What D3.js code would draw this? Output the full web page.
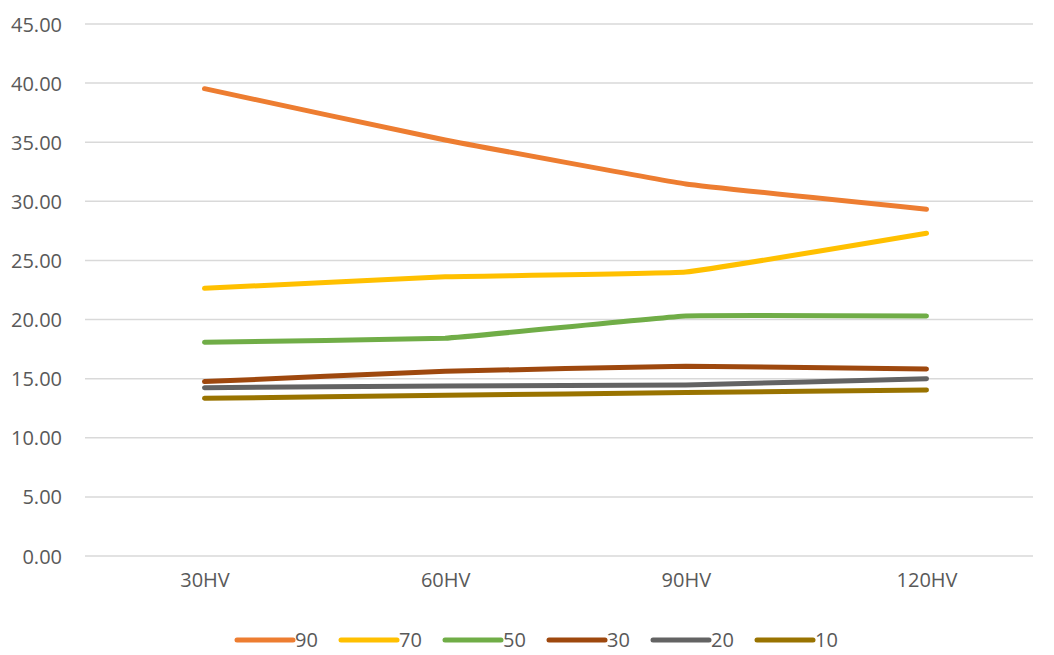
<!DOCTYPE html>
<html>
<head>
<meta charset="utf-8">
<script src="https://cdn.jsdelivr.net/npm/d3@7"></script>
<style>
  html, body { margin: 0; padding: 0; background: #fff; }
  svg { display: block; }
  text { font-family: "Open Sans", "Noto Sans", sans-serif; fill: #595959; }
</style>
</head>
<body>
<svg id="chart" width="1054" height="655"></svg>
<script>
const categories = ["30HV", "60HV", "90HV", "120HV"];
const seriesNames = ["90", "70", "50", "30", "20", "10"];
const seriesColors = ["#ED7D31", "#FFC000", "#70AD47", "#9E480E", "#636363", "#997300"];
const s90 = [39.53, 35.19, 31.47, 29.33];
const s70 = [22.64, 23.62, 24.02, 27.30];
const s50 = [18.08, 18.42, 20.30, 20.30];
const s30 = [14.75, 15.62, 16.05, 15.82];
const s20 = [14.24, 14.38, 14.46, 15.00];
const s10 = [13.34, 13.60, 13.82, 14.04];
const yTicks = [0, 5, 10, 15, 20, 25, 30, 35, 40, 45];

const seriesValues = [s90, s70, s50, s30, s20, s10];

const svg = d3.select("#chart");
const x = d3.scalePoint().domain(categories).range([204.5, 926.5]);
const y = d3.scaleLinear().domain([0, 45]).range([556, 24]);

// gridlines
svg.append("g").selectAll("line").data(yTicks).join("line")
  .attr("x1", 85).attr("x2", 1033)
  .attr("y1", d => y(d)).attr("y2", d => y(d))
  .attr("stroke", "#d9d9d9").attr("stroke-width", 1.5);

// y axis
const yAxis = d3.axisLeft(y).tickValues(yTicks).tickFormat(d3.format(".2f")).tickSize(0).tickPadding(0);
const yg = svg.append("g").attr("transform", "translate(62,0)").call(yAxis);
yg.select(".domain").remove();
yg.selectAll("text").attr("font-size", 20).style("fill", "#595959").attr("dy", "0.35em");

// x axis
const xAxis = d3.axisBottom(x).tickSize(0).tickPadding(0);
const xg = svg.append("g").attr("transform", "translate(0,580)").call(xAxis);
xg.select(".domain").remove();
xg.selectAll("text").attr("font-size", 20).style("fill", "#595959").attr("dy", "0.35em");

// lines
const line = d3.line()
  .x((d, i) => x(categories[i]))
  .y(d => y(d))
  .curve(d3.curveCardinal.tension(0.75));

svg.append("g").selectAll("path").data(seriesValues).join("path")
  .attr("d", d => line(d))
  .attr("fill", "none")
  .attr("stroke", (d, i) => seriesColors[i])
  .attr("stroke-width", 5)
  .attr("stroke-linecap", "round")
  .attr("stroke-linejoin", "round");

// legend
const legend = svg.append("g").attr("transform", "translate(237,640)");
const item = legend.selectAll("g").data(seriesNames).join("g")
  .attr("transform", (d, i) => `translate(${i * 104},0)`);
item.append("line")
  .attr("x1", 0).attr("x2", 56).attr("y1", 0).attr("y2", 0)
  .attr("stroke", (d, i) => seriesColors[i])
  .attr("stroke-width", 5).attr("stroke-linecap", "round");
item.append("text")
  .attr("x", 58).attr("y", 0).attr("dy", "0.35em")
  .attr("font-size", 20)
  .text(d => d);
</script>
</body>
</html>
